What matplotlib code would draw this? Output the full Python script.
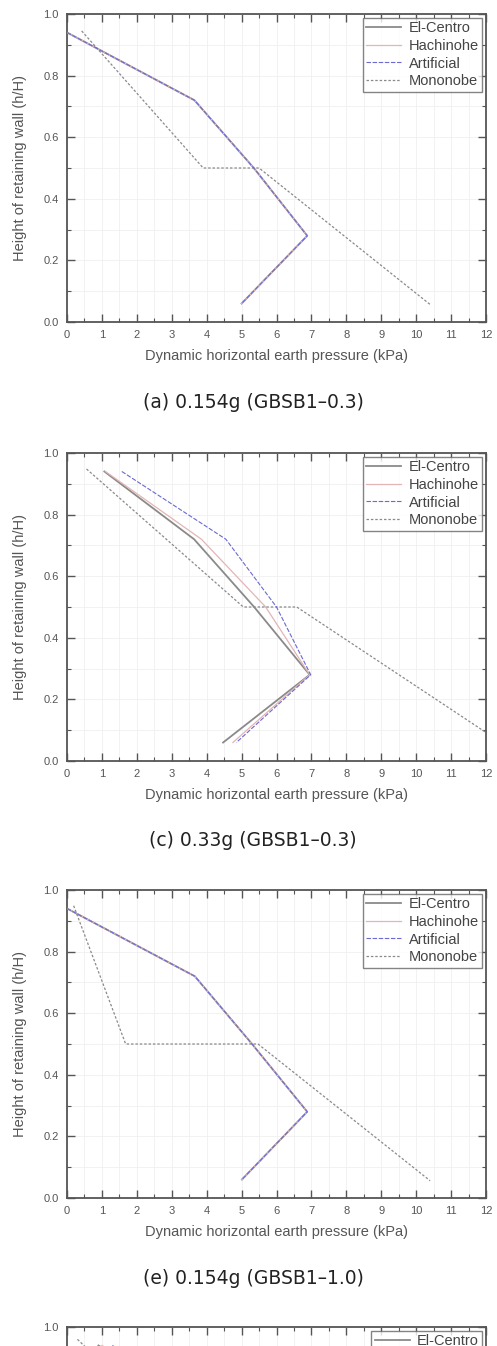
import matplotlib.pyplot as plt
import numpy as np

plt.rcParams['font.family'] = ['Liberation Sans', 'DejaVu Sans']

# measurement heights (h/H)
heights = [0.94, 0.72, 0.50, 0.28, 0.06]

# (a) 0.154g (GBSB1-0.3)
elc_a = [0.0, 3.65, 5.35, 6.88, 5.0]
hac_a = [0.0, 3.65, 5.35, 6.88, 5.0]
art_a = [0.0, 3.65, 5.35, 6.88, 5.0]
mono_x_a = [0.42, 3.9, 5.5, 10.42]
mono_y_a = [0.945, 0.5, 0.5, 0.055]

# (c) 0.33g (GBSB1-0.3)
elc_c = [1.07, 3.64, 5.36, 6.95, 4.47]
hac_c = [1.10, 3.85, 5.69, 6.95, 4.75]
art_c = [1.57, 4.55, 6.00, 6.98, 4.85]
mono_x_c = [0.56, 5.05, 6.58, 12.5]
mono_y_c = [0.948, 0.5, 0.5, 0.055]

# (e) 0.154g (GBSB1-1.0)
elc_e = [0.0, 3.66, 5.3, 6.88, 5.01]
hac_e = [0.0, 3.66, 5.3, 6.88, 5.01]
art_e = [0.0, 3.66, 5.3, 6.88, 5.01]
mono_x_e = [0.19, 1.68, 5.47, 10.4]
mono_y_e = [0.949, 0.5, 0.5, 0.056]

# (g) only the top edge is visible in the picture
elc_g = [0.9, 4.0, 5.8, 7.2, 5.2]
hac_g = [1.0, 4.2, 6.0, 7.3, 5.4]
art_g = [1.3, 4.6, 6.3, 7.4, 5.5]
mono_x_g = [0.3, 4.5, 6.5, 12.5]
mono_y_g = [0.96, 0.5, 0.5, 0.055]

captions = ['(a) 0.154g (GBSB1\u20130.3)', '(c) 0.33g (GBSB1\u20130.3)',
            '(e) 0.154g (GBSB1\u20131.0)', '']

panels = [(elc_a, hac_a, art_a, mono_x_a, mono_y_a),
          (elc_c, hac_c, art_c, mono_x_c, mono_y_c),
          (elc_e, hac_e, art_e, mono_x_e, mono_y_e),
          (elc_g, hac_g, art_g, mono_x_g, mono_y_g)]

W, H = 497, 1346
fig = plt.figure(figsize=(W/100, H/100), dpi=100)

left, right = 67, 486
ax_h = 308
tops = [14, 453, 890, 1327]

for i, (elc, hac, art, mx, my) in enumerate(panels):
    top = tops[i]
    last = (i == 3)  # bottom panel is cut by the picture edge
    ax = fig.add_axes([left/W, 1-(top+ax_h)/H, (right-left)/W, ax_h/H])
    ax.plot(elc, heights, color='#8a8a8a', lw=1.3, label='El-Centro', zorder=3)
    ax.plot(hac, heights, color='#e3b5b5', lw=0.9,
            label=None if last else 'Hachinohe', zorder=3)
    ax.plot(art, heights, color='#6a6ad0', lw=0.8, ls=(0, (4, 1.5)),
            label=None if last else 'Artificial', zorder=4)
    ax.plot(mx, my, color='#8a8a8a', lw=0.9, ls=(0, (2, 1.5)),
            label=None if last else 'Mononobe', zorder=3)

    ax.set_xlim(0, 12)
    ax.set_ylim(0, 1.0)
    ax.set_xticks(np.arange(0, 13, 1))
    ax.set_xticks(np.arange(0, 12.01, 0.5), minor=True)
    ax.set_yticks(np.arange(0, 1.01, 0.2))
    ax.set_yticks(np.arange(0, 1.01, 0.1), minor=True)
    if last:
        ax.set_yticklabels(['', '', '', '', '', '1.0'])
        ax.set_xticklabels([])
    else:
        ax.set_yticklabels(['%.1f' % v for v in np.arange(0, 1.01, 0.2)])
    ax.grid(which='both', color='#f0f0f0', lw=0.6, zorder=0)
    ax.tick_params(which='both', direction='in', top=True, right=True,
                   colors='#555555', labelsize=8)
    ax.tick_params(axis='x', pad=5.5)
    ax.tick_params(axis='y', pad=6)
    ax.tick_params(which='major', length=6, width=1.0)
    ax.tick_params(which='minor', length=3, width=0.8)
    for s in ax.spines.values():
        s.set_color('#555555')
        s.set_linewidth(1.3)

    if not last:
        ax.set_xlabel('Dynamic horizontal earth pressure (kPa)', fontsize=10.5,
                      color='#555555', labelpad=7)
        ax.set_ylabel('Height of retaining wall (h/H)', fontsize=10.5,
                      color='#555555', labelpad=12)

    leg = ax.legend(loc='upper right', fontsize=10.5, frameon=True,
                    fancybox=False, borderaxespad=0.25, handlelength=2.4,
                    handletextpad=0.5, labelspacing=0.25, borderpad=0.25)
    leg.get_frame().set_edgecolor('#666666')
    leg.get_frame().set_linewidth(1.0)
    for t in leg.get_texts():
        t.set_color('#444444')

    if captions[i]:
        fig.text(253/W, 1-(top+ax_h+80)/H, captions[i], ha='center',
                 va='center', fontsize=13.5, color='#222222',
                 family=['DejaVu Sans'])

fig.savefig('out.png', dpi=100)
